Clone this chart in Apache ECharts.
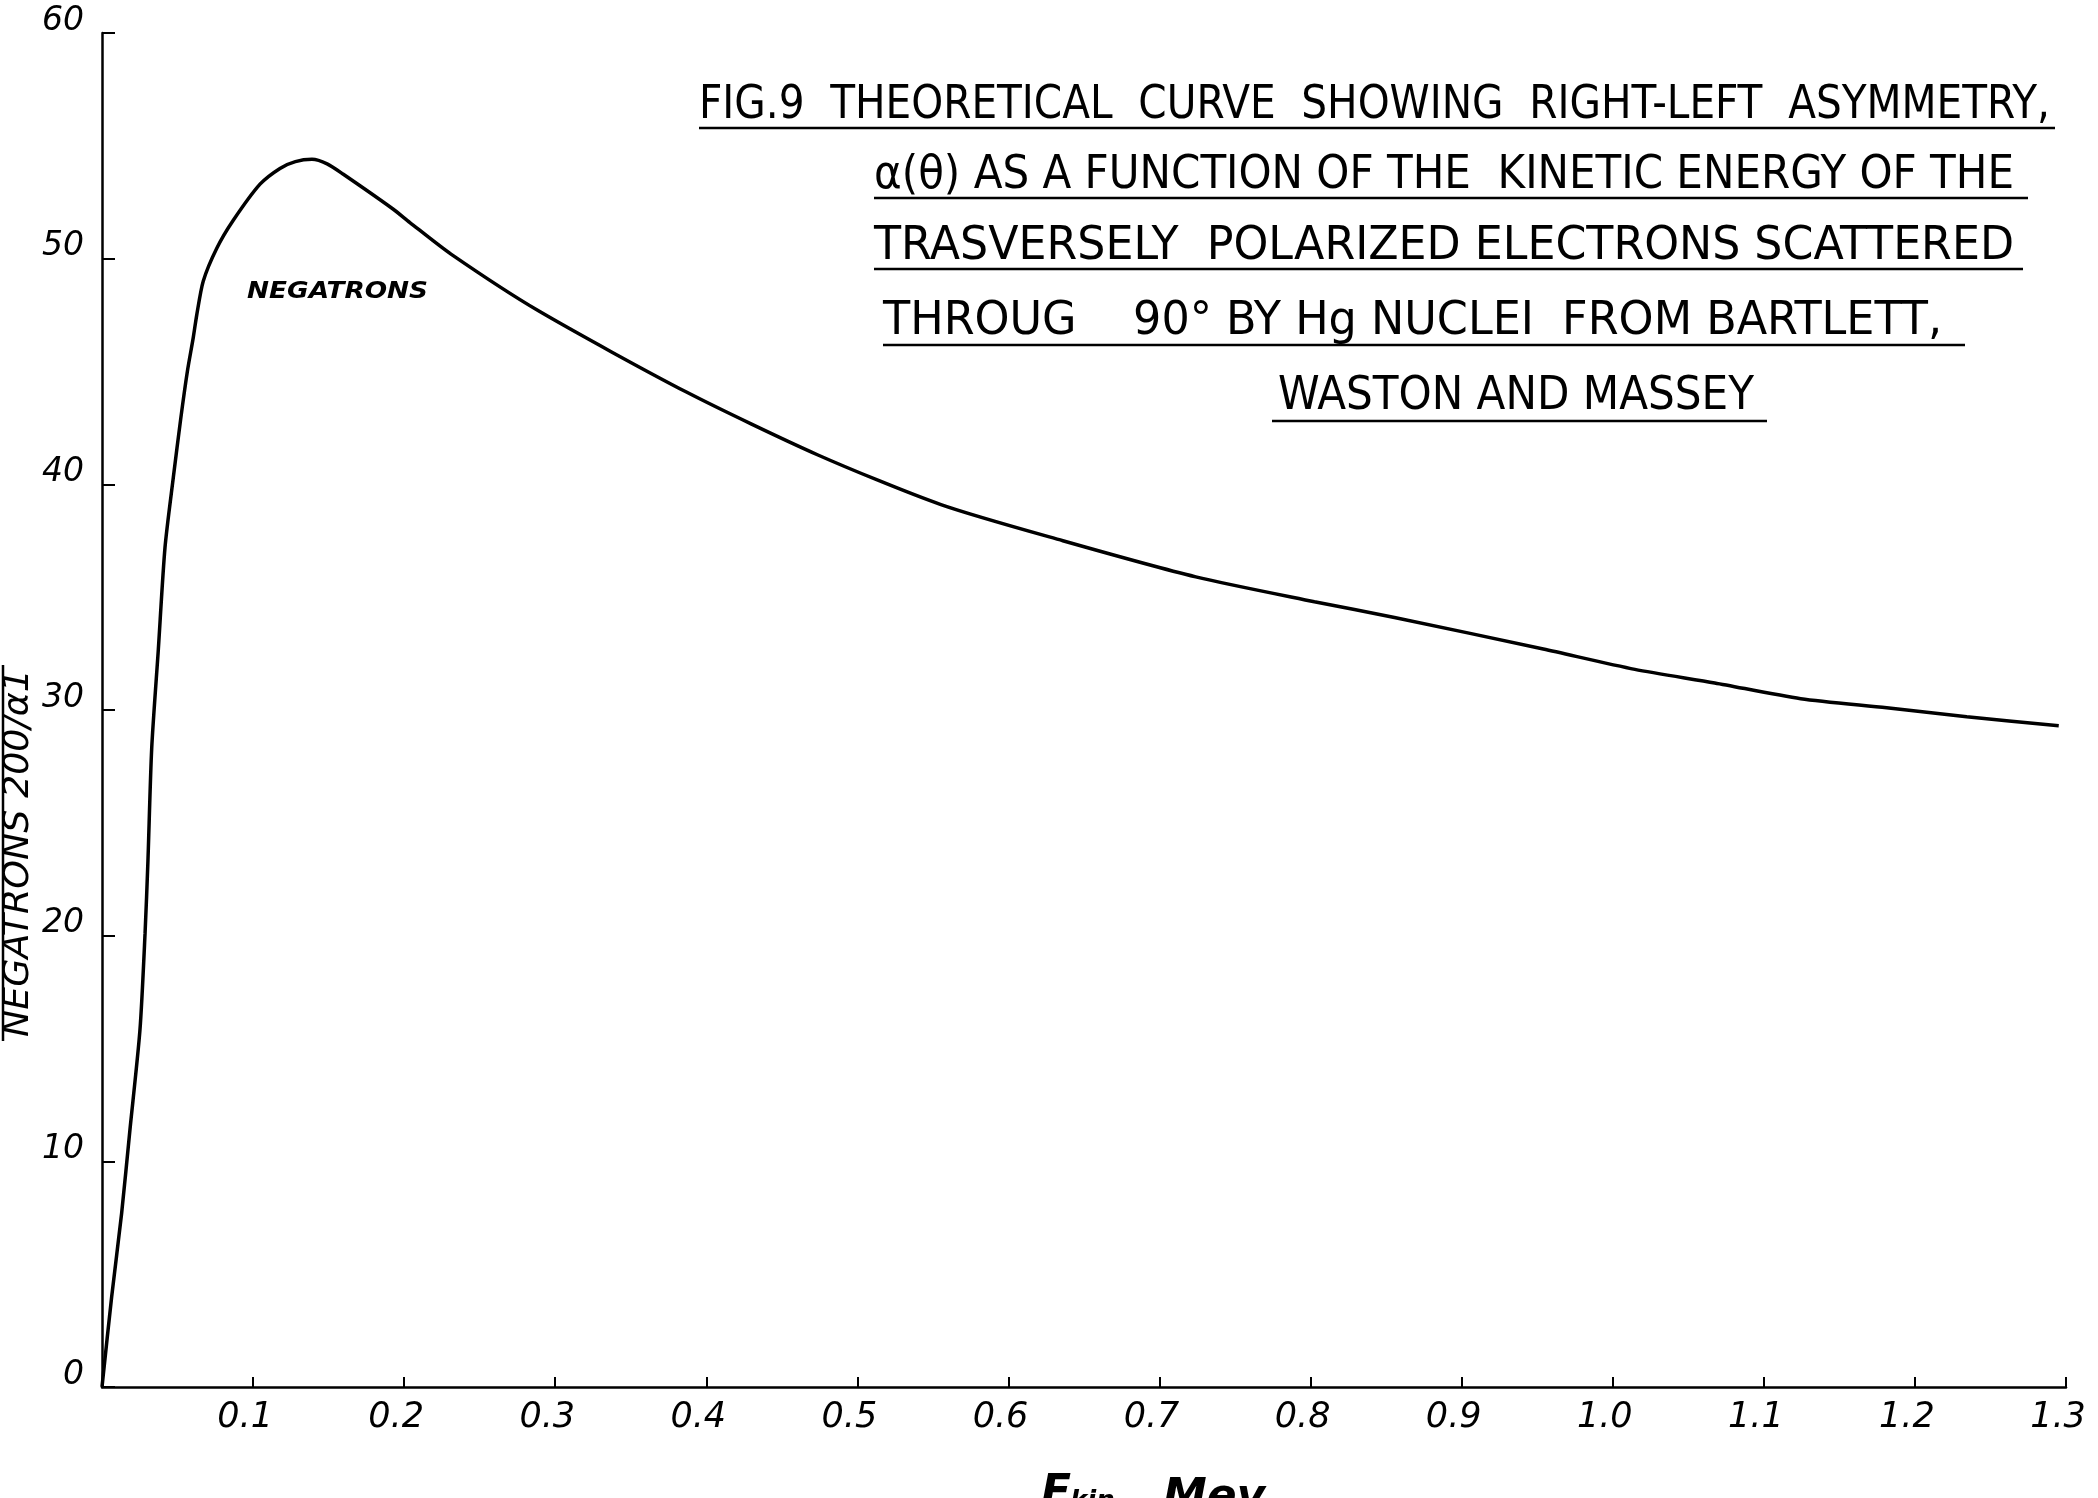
<!DOCTYPE html>
<html>
<head>
<meta charset="utf-8">
<script src="https://cdn.jsdelivr.net/npm/echarts@6/dist/echarts.min.js"></script>
<style>
html,body{margin:0;padding:0;background:#fff;}
#chart{width:2098px;height:1498px;}
</style>
</head>
<body>
<div id="chart"></div>
<script>
// ---- data ----
const energy = [0, 0.0064, 0.0130, 0.0185, 0.0251, 0.0285, 0.0304, 0.0329, 0.0373, 0.0417, 0.0472, 0.0521, 0.0565, 0.0604, 0.0627, 0.0670, 0.0759, 0.0869, 0.1046, 0.1178, 0.128, 0.139, 0.149, 0.1595, 0.1926, 0.2038, 0.231, 0.2886, 0.3865, 0.4739, 0.5553, 0.636, 0.724, 0.8025, 0.8555, 0.954, 1.0146, 1.0675, 1.1244, 1.1813, 1.2343, 1.2952];
const asymmetry = [0, 4.0, 7.7, 11.4, 15.8, 20.1, 23.3, 28.3, 32.7, 37.2, 40.3, 42.9, 45.0, 46.5, 47.5, 49.0, 50.45, 51.7, 53.3, 54.0, 54.3, 54.4, 54.2, 53.75, 52.2, 51.6, 50.2, 47.7, 44.1, 41.3, 39.1, 37.5, 35.9, 34.8, 34.1, 32.7, 31.8, 31.2, 30.5, 30.1, 29.7, 29.3];
const xTickLabels = ['0.1','0.2','0.3','0.4','0.5','0.6','0.7','0.8','0.9','1.0','1.1','1.2','1.3'];
const yTickLabels = ['0','10','20','30','40','50','60'];
const curveLabel = 'NEGATRONS';
const yAxisTitle = 'NEGATRONS 200/α1';
const titleLines = [
  'FIG.9  THEORETICAL  CURVE  SHOWING  RIGHT-LEFT  ASYMMETRY,',
  'α(θ) AS A FUNCTION OF THE  KINETIC ENERGY OF THE',
  'TRASVERSELY  POLARIZED ELECTRONS SCATTERED',
  'THROUG    90° BY Hg NUCLEI  FROM BARTLETT,',
  'WASTON AND MASSEY'
];

// ---- layout (pixels) ----
const titleLayout = [
  {x1: 699,  x2: 2050, y: 106, u: [699, 2055, 128]},
  {x1: 874,  x2: 2014, y: 176, u: [874, 2028, 198]},
  {x1: 874,  x2: 2014, y: 247, u: [874, 2023, 269]},
  {x1: 883,  x2: 1942, y: 322, u: [883, 1965, 345]},
  {x1: 1278, x2: 1754, y: 397, u: [1272, 1767, 421]}
];

const chart = echarts.init(document.getElementById('chart'), null, {renderer: 'canvas'});
const seriesData = energy.map((e, i) => [e, asymmetry[i]]);

const ctx = document.createElement('canvas').getContext('2d');
function measure(text, style, weight, size, family) {
  ctx.font = style + ' ' + weight + ' ' + size + 'px ' + family;
  return ctx.measureText(text).width;
}

const TITLE_FAMILY = '"Liberation Sans Narrow", "DejaVu Sans Condensed", sans-serif';
const LABEL_FAMILY = '"DejaVu Sans", sans-serif';

chart.setOption({
  backgroundColor: '#ffffff',
  animation: false,
  grid: {left: 102, right: 32, top: 33, bottom: 111, containLabel: false},
  xAxis: {
    type: 'value', min: 0, max: 1.3, interval: 0.1,
    axisLine: {show: true, onZero: false, lineStyle: {color: '#000', width: 2.5}},
    axisTick: {show: true, inside: true, length: 10, lineStyle: {color: '#000', width: 2}},
    splitLine: {show: false},
    axisLabel: {
      show: true, showMinLabel: false, color: '#000', fontFamily: LABEL_FAMILY,
      fontStyle: 'italic', fontSize: 35, margin: 13, padding: [0, 16, 0, 0],
      formatter: v => { const i = Math.round(v * 10); return i >= 1 ? xTickLabels[i - 1] : ''; }
    }
  },
  yAxis: {
    type: 'value', min: 0, max: 60, interval: 10,
    axisLine: {show: true, lineStyle: {color: '#000', width: 2.5}},
    axisTick: {show: true, inside: true, length: 13, lineStyle: {color: '#000', width: 2}},
    splitLine: {show: false},
    axisLabel: {
      show: true, color: '#000', fontFamily: LABEL_FAMILY, fontStyle: 'italic',
      fontSize: 33, lineHeight: 24, verticalAlign: 'bottom', margin: 18,
      formatter: v => yTickLabels[Math.round(v / 10)]
    }
  },
  series: [{
    type: 'line', data: seriesData, symbol: 'none', smooth: 0.25,
    lineStyle: {color: '#000', width: 3.5}, z: 5
  }]
});

// ---- text elements ----
const graphics = [];
titleLines.forEach((t, i) => {
  const L = titleLayout[i];
  const w = measure(t, 'normal', 'normal', 46, TITLE_FAMILY);
  graphics.push({
    type: 'text', x: L.x1, y: L.y, scaleX: (L.x2 - L.x1) / w, scaleY: 1,
    style: {text: t, fontSize: 46, fontFamily: TITLE_FAMILY, fill: '#000',
            align: 'left', verticalAlign: 'middle', textAlign: 'left', textVerticalAlign: 'middle'}
  });
  graphics.push({
    type: 'line', shape: {x1: L.u[0], y1: L.u[2], x2: L.u[1], y2: L.u[2]},
    style: {stroke: '#000', lineWidth: 2.5}
  });
});

// curve annotation placed from data coordinates
const annPos = chart.convertToPixel({gridIndex: 0}, [0.096, 48.5]);
const annW = measure(curveLabel, 'italic', 'bold', 23, LABEL_FAMILY);
graphics.push({
  type: 'text', x: annPos[0], y: annPos[1], scaleX: 181 / annW,
  style: {text: curveLabel, fontSize: 23, fontStyle: 'italic', fontWeight: 'bold', fontFamily: LABEL_FAMILY,
          fill: '#000', align: 'left', verticalAlign: 'middle', textAlign: 'left', textVerticalAlign: 'middle'}
});

// y axis title (rotated, with bar)
const yW = measure(yAxisTitle, 'italic', 'normal', 36, LABEL_FAMILY);
graphics.push({
  type: 'text', x: 19, y: 853, rotation: Math.PI / 2, scaleX: 368 / yW,
  style: {text: yAxisTitle, fontSize: 36, fontStyle: 'italic', fontFamily: LABEL_FAMILY, fill: '#000',
          align: 'center', verticalAlign: 'middle', textAlign: 'center', textVerticalAlign: 'middle'}
});
graphics.push({
  type: 'line', shape: {x1: 3, y1: 665, x2: 3, y2: 1041},
  style: {stroke: '#000', lineWidth: 2.5}
});

// x axis title (cut by the page bottom)
graphics.push({
  type: 'text', x: 1041, y: 1473,
  style: {text: 'E', fontSize: 44, fontStyle: 'italic', fontWeight: 'bold', fontFamily: LABEL_FAMILY, fill: '#000',
          align: 'left', verticalAlign: 'top', textAlign: 'left', textVerticalAlign: 'top'}
});
graphics.push({
  type: 'text', x: 1070, y: 1489,
  style: {text: 'kin', fontSize: 26, fontStyle: 'italic', fontWeight: 'bold', fontFamily: LABEL_FAMILY, fill: '#000',
          align: 'left', verticalAlign: 'top', textAlign: 'left', textVerticalAlign: 'top'}
});
graphics.push({
  type: 'text', x: 1163, y: 1477,
  style: {text: 'Mev', fontSize: 44, fontStyle: 'italic', fontWeight: 'bold', fontFamily: LABEL_FAMILY, fill: '#000',
          align: 'left', verticalAlign: 'top', textAlign: 'left', textVerticalAlign: 'top'}
});

chart.setOption({graphic: {elements: graphics}});
</script>
</body>
</html>
